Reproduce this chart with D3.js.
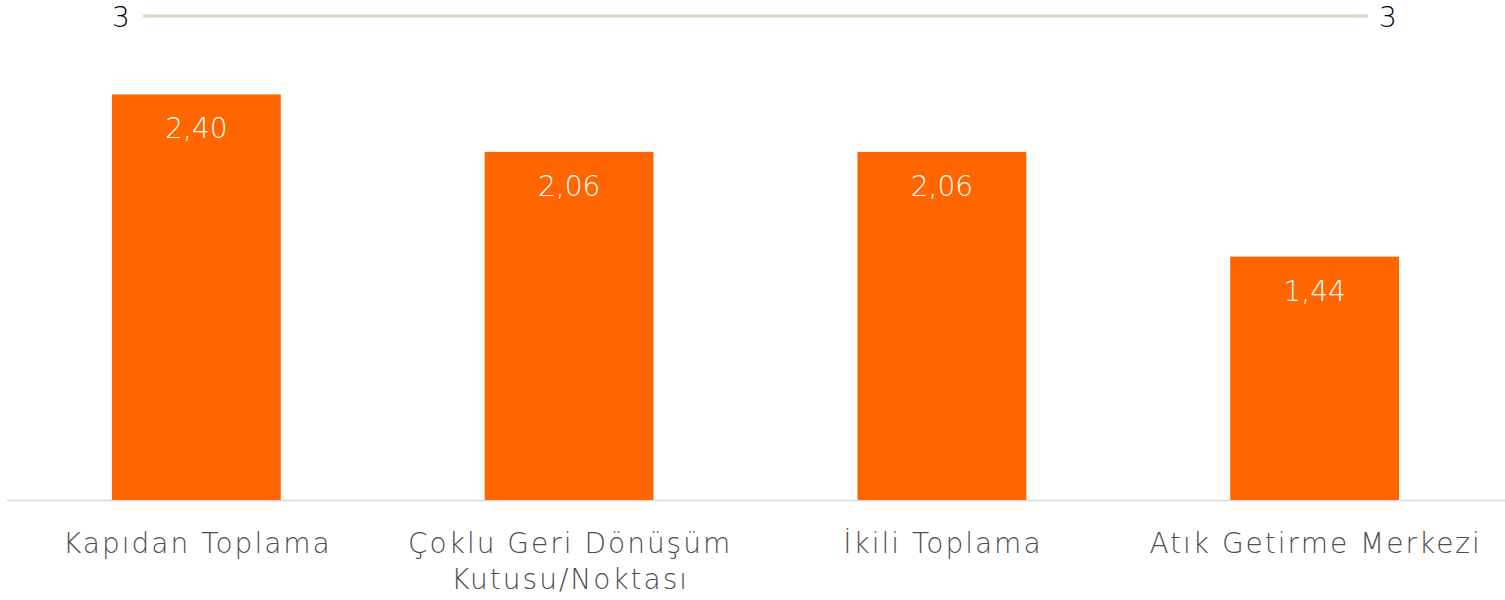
<!DOCTYPE html>
<html>
<head>
<meta charset="utf-8">
<script src="https://cdn.jsdelivr.net/npm/d3@7"></script>
<style>
  body { margin: 0; background: #fff; }
  text { font-family: "DejaVu Sans", sans-serif; }
</style>
</head>
<body>
<script>
var categories = ["Kapıdan Toplama", "Çoklu Geri Dönüşüm Kutusu/Noktası", "İkili Toplama", "Atık Getirme Merkezi"];
var categoryLines = [["Kapıdan Toplama"], ["Çoklu Geri Dönüşüm", "Kutusu/Noktası"], ["İkili Toplama"], ["Atık Getirme Merkezi"]];
var barValues = [2.40, 2.06, 2.06, 1.44];
var lineKeys = ["start", "end"];
var lineValues = [3, 3];

var width = 1505, height = 600;

var svg = d3.select("body").append("svg")
    .attr("width", width)
    .attr("height", height);

var fmt = function(v){ return d3.format(".2f")(v).replace(".", ","); };

//****************************** Scales ****************************************
var x = d3.scaleBand()
    .domain(categories)
    .range([10, 1501])
    .paddingInner(0.547)
    .paddingOuter(0.2735);

var y = d3.scaleLinear()
    .domain([0, 3])
    .range([500, -7]);

// the "3" line sits on its own axis
var xLine = d3.scalePoint()
    .domain(lineKeys)
    .range([143, 1368]);

var yLine = d3.scaleLinear()
    .domain([0, 3])
    .range([500, 16]);

//****************************** Baseline **************************************
svg.append("line")
    .attr("x1", 7)
    .attr("x2", width)
    .attr("y1", y(0) + 0.5)
    .attr("y2", y(0) + 0.5)
    .style("stroke", "#d9d9d9")
    .style("stroke-width", 1.5);

//****************************** Bars ******************************************
svg.selectAll("rect.bar")
    .data(barValues)
    .enter().append("rect")
        .attr("class", "bar")
        .attr("x", function(d,i){ return x(categories[i]); })
        .attr("y", function(d){ return y(d); })
        .attr("width", x.bandwidth())
        .attr("height", function(d){ return y(0) - y(d); })
        .attr("fill", "#ff6600");

svg.selectAll("text.valueText")
    .data(barValues)
    .enter().append("text")
        .attr("class", "valueText")
        .attr("text-anchor", "middle")
        .attr("x", function(d,i){ return x(categories[i]) + x.bandwidth()/2; })
        .attr("y", function(d){ return y(d) + 44; })
        .attr("font-size", "28px")
        .attr("font-weight", 300)
        .attr("fill", "#ffffff")
        .text(function(d){ return fmt(d); });

//****************************** Category labels *******************************
var cats = svg.selectAll("text.catText")
    .data(categoryLines)
    .enter().append("text")
        .attr("class", "catText")
        .attr("text-anchor", "middle")
        .attr("font-size", "28px")
        .attr("font-weight", 300)
        .attr("letter-spacing", "2px")
        .attr("fill", "#4d4d4d")
        .attr("x", function(d,i){ return x(categories[i]) + x.bandwidth()/2 + 1; })
        .attr("y", 553);

cats.selectAll("tspan")
    .data(function(d){ return d; })
    .enter().append("tspan")
        .attr("x", function(){ return d3.select(this.parentNode).attr("x"); })
        .attr("dy", function(d,i){ return i === 0 ? 0 : 36; })
        .text(function(d){ return d; });

//****************************** Line "3" **************************************
var lineGen = d3.line()
    .x(function(d,i){ return xLine(lineKeys[i]); })
    .y(function(d){ return yLine(d); });

svg.append("path")
    .datum(lineValues)
    .attr("d", lineGen)
    .style("fill", "none")
    .style("stroke", "#ddd9c3")
    .style("stroke-width", 3);

svg.selectAll("text.lineText")
    .data(lineValues)
    .enter().append("text")
        .attr("class", "lineText")
        .attr("text-anchor", "middle")
        .attr("x", function(d,i){ return xLine(lineKeys[i]) + (i === 0 ? -22 : 20); })
        .attr("y", function(d){ return yLine(d) + 11; })
        .attr("font-size", "28px")
        .attr("font-weight", 300)
        .attr("fill", "#000000")
        .text(function(d){ return d; });
</script>
</body>
</html>
